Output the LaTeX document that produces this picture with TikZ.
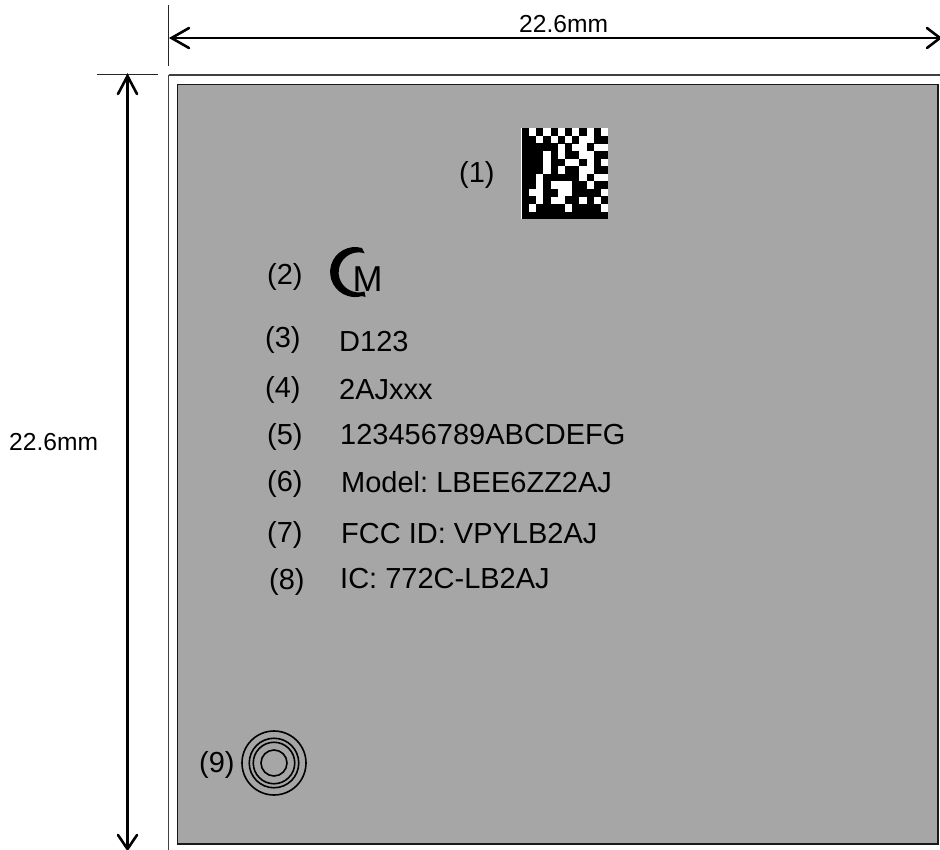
\documentclass[tikz,border=0pt]{standalone}
\usepackage{fontspec}
\setmainfont[RawFeature=-kern]{Liberation Sans}
\frenchspacing
\begin{document}
\begin{tikzpicture}[x=1pt,y=-1pt,
  lbl/.style={inner sep=0pt,anchor=base west,font=\fontsize{29}{29}\selectfont,text=black},
  dimlbl/.style={inner sep=0pt,anchor=base west,font=\fontsize{24.6}{25}\selectfont,text=black},
  dim/.style={line width=2.6pt,black},
  tick/.style={line width=1.1pt,black!85},
  ring/.style={line width=1.6pt,black,draw,circle,inner sep=0pt}]
\useasboundingbox (0,0) rectangle (940,849);
\begin{scope}
\clip (0,0) rectangle (940,849);
\draw[line width=1.1pt,black!75] (168.5,75) -- (945,75);
\draw[line width=1.1pt,black!75] (168.5,75) -- (168.5,855);
\end{scope}
\draw[line width=1.1pt,black!90,fill=black!35] (177.5,84.5) rectangle (938,844);
% dimension lines
\coordinate (hl) at (171.5,38);
\coordinate (hr) at (940,38);
\coordinate (vt) at (127.5,76);
\coordinate (vb) at (127.5,849);
\draw[tick] (168.5,5) -- (168.5,66);
\draw[tick] (97,74.5) -- (158,74.5);
\draw[dim] (hl) -- (hr);
\draw[dim] (vt) -- (vb);
\draw[dim,line cap=round] (189,28) -- (hl) -- (189,48);
\draw[dim,line cap=round] (927,28) -- (hr) -- (927,48);
\draw[dim,line cap=round] (118,94) -- (vt) -- (137,94);
\draw[dim,line cap=round] (118,835) -- (vb) -- (137,835);
% data matrix
\fill[white] (521,128) rectangle (608,219);
\foreach \r/\cols in {0/{0,2,4,6,8,10},
 1/{0,1,3,5,7,10,11},
 2/{0,1,2,3,4,6,9},
 3/{0,1,2,4,6,7,10,11},
 4/{0,1,2,4,5,8,10},
 5/{0,1,2,4,6,7,10,11},
 6/{0,1,3,4,5,6,7,9},
 7/{0,1,3,7,8,10,11},
 8/{0,3,4,7,8,9,10},
 9/{0,1,3,6,7,9,11},
 10/{0,2,3,4,5,7,8,9,10},
 11/{0,1,2,3,4,5,6,7,8,9,10,11}}{
  \foreach \c in \cols {
    \fill[black] ({521.7+7.2*\c},{128.3+7.57*\r}) rectangle ({521.7+7.2*(\c+1)+0.1},{128.3+7.57*(\r+1)+0.1});
  }
}
% CM mark
\fill[black] (362,248) arc[start angle=-74,end angle=-286,radius=25] -- (365.5,297)
  -- (364.5,291.5) arc[start angle=73,end angle=287,radius=20] -- cycle;
\node[lbl] (m) at (352.5,291) {\fontsize{36}{36}\selectfont M};
% labels
\node[lbl] (t1) at (459,182) {(1)};
\node[lbl] (t2) at (267,284.5) {(2)};
\node[lbl] (t3) at (265,347.5) {(3)};
\node[lbl] (d123) at (339,351.5) {D123};
\node[lbl] (t4) at (265,397.5) {(4)};
\node[lbl] (a2) at (339,399) {2AJxxx};
\node[lbl] (t5) at (267,444.5) {(5)};
\node[lbl] (ser) at (340,444) {123456789ABCDEFG};
\node[lbl] (t6) at (267,491.5) {(6)};
\node[lbl] (mod) at (341,492) {Model: LBEE6ZZ2AJ};
\node[lbl] (t7) at (267,542) {(7)};
\node[lbl] (fcc) at (341,543) {FCC ID: VPYLB2AJ};
\node[lbl] (t8) at (269,589) {(8)};
\node[lbl] (ic) at (340,588) {IC: 772C-LB2AJ};
\node[lbl] (t9) at (199,772) {(9)};
\node[dimlbl] (dimv) at (9,450) {22.6mm};
\node[dimlbl] (dimh) at (519,32) {22.6mm};
% rings
\node[ring,minimum size=64pt] (r1) at (274,763) {};
\node[ring,minimum size=49.5pt] (r2) at (274,763) {};
\node[ring,minimum size=41.5pt] (r3) at (274,763) {};
\node[ring,minimum size=26pt] (r4) at (274,763) {};
\end{tikzpicture}
\end{document}
